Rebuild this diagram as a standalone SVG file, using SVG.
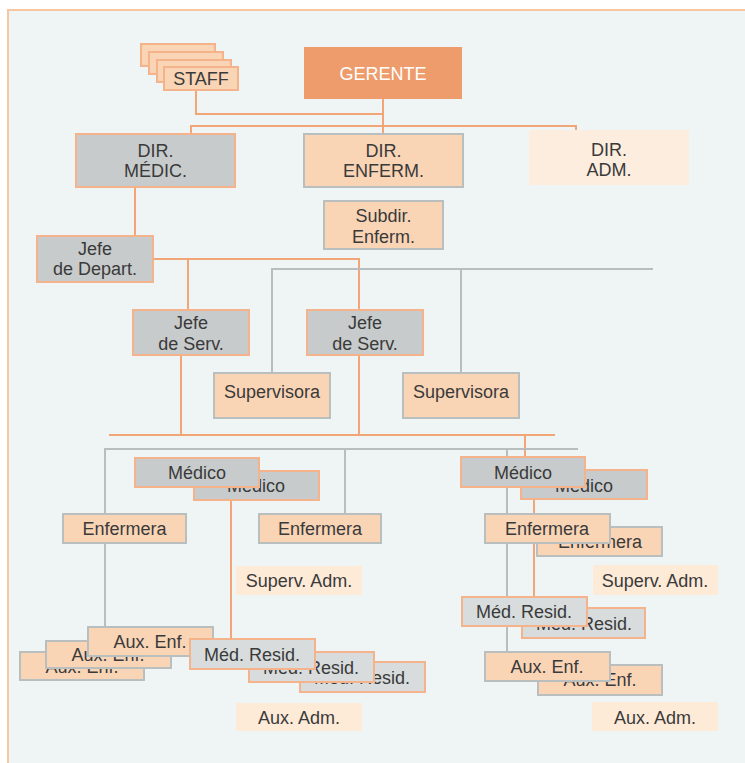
<svg xmlns="http://www.w3.org/2000/svg" width="745" height="763" viewBox="0 0 745 763">
  <style>
    .or { fill: none; stroke: #f2a677; stroke-width: 2; }
    .gr { fill: none; stroke: #b8bebe; stroke-width: 2; }
    .g { fill: #c8cbcb; stroke: #f4b38a; stroke-width: 2; }
    .p { fill: #f9d5b6; stroke: #b9bebe; stroke-width: 2; }
    .l { fill: #fdebd8; }
    .r { fill: #d8dcdc; stroke: #f4b38a; stroke-width: 2; }
    .al { fill: #fcedde; }
    text { font-family: "Liberation Sans", Arial, sans-serif; font-size: 18px; fill: #3a3a3a; text-anchor: middle; }
    .w { fill: #ffffff; }
  </style>

  <!-- page background and frame -->
  <rect x="0" y="0" width="745" height="763" fill="#ffffff"/>
  <rect x="8" y="10" width="760" height="770" fill="#eef5f4" stroke="#f6c6a0" stroke-width="2"/>

  <!-- connectors -->
  <g id="connectors">
    <path class="or" d="M196,90 V114 H383"/>
    <path class="or" d="M383,99 V134"/>
    <path class="or" d="M191,134 V126 H576 V130"/>
    <path class="or" d="M135,187 V236"/>
    <path class="or" d="M153,259 H359 V310"/>
    <path class="or" d="M188,259 V310"/>
    <path class="or" d="M181,355 V435"/>
    <path class="or" d="M359,355 V435"/>
    <path class="or" d="M109,435 H555"/>
    <path class="or" d="M525,435 V457"/>
    <path class="or" d="M231,499 V639"/>
    <path class="or" d="M534,499 V597"/>
    <path class="gr" d="M272,373 V269 H653"/>
    <path class="gr" d="M461,269 V373"/>
    <path class="gr" d="M105,627 V449 H578"/>
    <path class="gr" d="M345,449 V514"/>
    <path class="gr" d="M507,449 V652"/>
  </g>

  <!-- top level -->
  <g id="staff">
    <rect class="p" x="141" y="44" width="74" height="22" style="stroke:#f4b38a"/>
    <rect class="p" x="149" y="52" width="74" height="22" style="stroke:#f4b38a"/>
    <rect class="p" x="157" y="60" width="74" height="22" style="stroke:#f4b38a"/>
    <rect class="p" x="164" y="67" width="74" height="23" style="stroke:#f4b38a"/>
    <text x="201" y="85">STAFF</text>
  </g>
  <g id="gerente">
    <rect x="304" y="47" width="158" height="52" fill="#ee9c6c"/>
    <text class="w" x="383" y="80">GERENTE</text>
  </g>

  <g id="dir-medic">
    <rect class="g" x="76" y="134" width="159" height="53"/>
    <text x="155.5" y="157">DIR.</text>
    <text x="155.5" y="177">MÉDIC.</text>
  </g>
  <g id="dir-enferm">
    <rect class="p" x="304" y="134" width="159" height="53"/>
    <text x="383.5" y="157">DIR.</text>
    <text x="383.5" y="177">ENFERM.</text>
  </g>
  <g id="dir-adm">
    <rect class="al" x="529" y="130" width="160" height="55"/>
    <text x="609" y="156">DIR.</text>
    <text x="609" y="176">ADM.</text>
  </g>

  <g id="subdir-enferm">
    <rect class="p" x="324" y="201" width="119" height="48"/>
    <text x="383.5" y="222">Subdir.</text>
    <text x="383.5" y="243">Enferm.</text>
  </g>

  <g id="jefe-depart">
    <rect class="g" x="37" y="236" width="116" height="46"/>
    <text x="95" y="255">Jefe</text>
    <text x="95" y="275">de Depart.</text>
  </g>
  <g id="jefe-serv-1">
    <rect class="g" x="133" y="310" width="116" height="45"/>
    <text x="191" y="329">Jefe</text>
    <text x="191" y="350">de Serv.</text>
  </g>
  <g id="jefe-serv-2">
    <rect class="g" x="307" y="310" width="116" height="45"/>
    <text x="365" y="329">Jefe</text>
    <text x="365" y="350">de Serv.</text>
  </g>

  <g id="supervisora-1">
    <rect class="p" x="214" y="373" width="116" height="45"/>
    <text x="272" y="398">Supervisora</text>
  </g>
  <g id="supervisora-2">
    <rect class="p" x="403" y="373" width="116" height="45"/>
    <text x="461" y="398">Supervisora</text>
  </g>

  <!-- left service unit -->
  <g id="medico-l2">
    <rect class="g" x="194" y="471" width="125" height="29"/>
    <text x="256" y="492">Médico</text>
  </g>
  <g id="medico-l1">
    <rect class="g" x="135" y="458" width="124" height="29"/>
    <text x="197" y="479">Médico</text>
  </g>
  <g id="enfermera-l1">
    <rect class="p" x="63" y="514" width="123" height="29"/>
    <text x="124.5" y="535">Enfermera</text>
  </g>
  <g id="enfermera-l2">
    <rect class="p" x="259" y="514" width="122" height="29"/>
    <text x="320" y="535">Enfermera</text>
  </g>
  <g id="superv-adm-l">
    <rect class="l" x="236" y="566" width="126" height="29"/>
    <text x="299" y="587">Superv. Adm.</text>
  </g>
  <g id="aux-enf-l3">
    <rect class="p" x="20" y="652" width="124" height="28"/>
    <text x="82" y="673">Aux. Enf.</text>
  </g>
  <g id="aux-enf-l2">
    <rect class="p" x="46" y="641" width="125" height="27"/>
    <text x="108" y="661">Aux. Enf.</text>
  </g>
  <g id="aux-enf-l1">
    <rect class="p" x="88" y="627" width="125" height="29"/>
    <text x="150" y="648">Aux. Enf.</text>
  </g>
  <g id="med-resid-l3">
    <rect class="r" x="300" y="662" width="125" height="30"/>
    <text x="362" y="684">Méd. Resid.</text>
  </g>
  <g id="med-resid-l2">
    <rect class="r" x="249" y="652" width="125" height="30"/>
    <text x="311" y="674">Méd. Resid.</text>
  </g>
  <g id="med-resid-l1">
    <rect class="r" x="190" y="639" width="125" height="30"/>
    <text x="252" y="661">Méd. Resid.</text>
  </g>
  <g id="aux-adm-l">
    <rect class="l" x="236" y="703" width="126" height="28"/>
    <text x="299" y="724">Aux. Adm.</text>
  </g>

  <!-- right service unit -->
  <g id="medico-r2">
    <rect class="g" x="521" y="470" width="126" height="29"/>
    <text x="584" y="492">Médico</text>
  </g>
  <g id="medico-r1">
    <rect class="g" x="461" y="457" width="124" height="30"/>
    <text x="523" y="479">Médico</text>
  </g>
  <g id="enfermera-r2">
    <rect class="p" x="537" y="527" width="125" height="29"/>
    <text x="600" y="548">Enfermera</text>
  </g>
  <g id="enfermera-r1">
    <rect class="p" x="485" y="514" width="125" height="29"/>
    <text x="547" y="535">Enfermera</text>
  </g>
  <g id="superv-adm-r">
    <rect class="l" x="593" y="565" width="125" height="30"/>
    <text x="655" y="587">Superv. Adm.</text>
  </g>
  <g id="med-resid-r2">
    <rect class="r" x="522" y="608" width="123" height="30"/>
    <text x="584" y="630">Méd. Resid.</text>
  </g>
  <g id="med-resid-r1">
    <rect class="r" x="462" y="597" width="125" height="29"/>
    <text x="524" y="618">Méd. Resid.</text>
  </g>
  <g id="aux-enf-r2">
    <rect class="p" x="538" y="665" width="124" height="30"/>
    <text x="600" y="686">Aux. Enf.</text>
  </g>
  <g id="aux-enf-r1">
    <rect class="p" x="485" y="652" width="125" height="29"/>
    <text x="547" y="673">Aux. Enf.</text>
  </g>
  <g id="aux-adm-r">
    <rect class="l" x="592" y="702" width="126" height="29"/>
    <text x="655" y="724">Aux. Adm.</text>
  </g>
</svg>
